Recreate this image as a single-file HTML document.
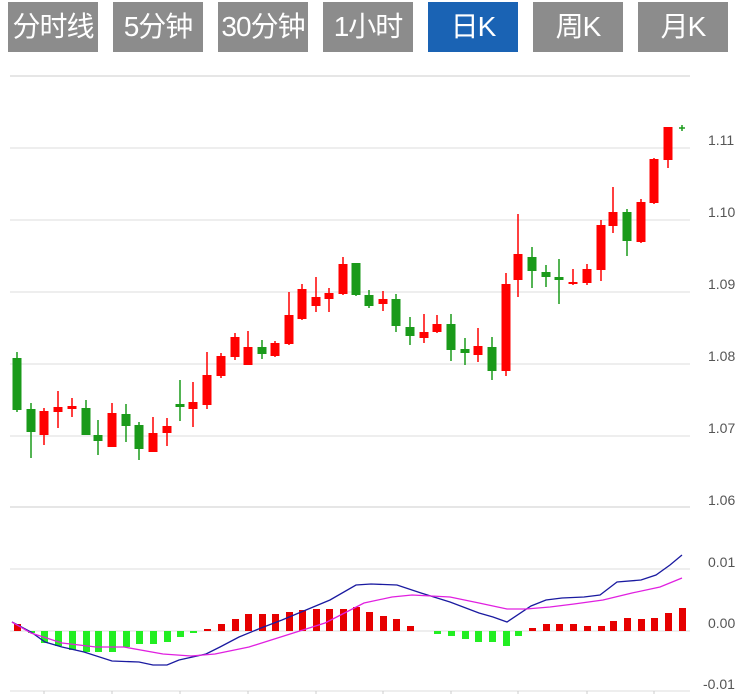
<!DOCTYPE html>
<html><head><meta charset="utf-8"><style>
body{margin:0;background:#fff;width:750px;height:694px;overflow:hidden;font-family:"Liberation Sans","Noto Sans CJK SC",sans-serif}
.t{position:absolute;top:2px;height:50px;width:90px;background:#8c8c8c;color:#fff;font-size:28px;line-height:50px;text-align:center;letter-spacing:-1px}
.a{background:#1a63b4}
svg{position:absolute;left:0;top:0}
</style></head><body>
<div class="t" style="left:8px">分时线</div>
<div class="t" style="left:113px">5分钟</div>
<div class="t" style="left:218px">30分钟</div>
<div class="t" style="left:323px">1小时</div>
<div class="t a" style="left:428px">日K</div>
<div class="t" style="left:533px">周K</div>
<div class="t" style="left:638px">月K</div>
<svg width="750" height="694" xmlns="http://www.w3.org/2000/svg">
<g stroke="#e6e6e6" stroke-width="2"><line x1="10" y1="76" x2="690" y2="76"/><line x1="10" y1="507" x2="690" y2="507"/></g>
<g stroke="#dcdcdc" stroke-width="1"><line x1="10" y1="148" x2="690" y2="148"/><line x1="10" y1="220" x2="690" y2="220"/><line x1="10" y1="292" x2="690" y2="292"/><line x1="10" y1="364" x2="690" y2="364"/><line x1="10" y1="436" x2="690" y2="436"/><line x1="10" y1="569" x2="690" y2="569"/><line x1="10" y1="631" x2="690" y2="631"/><line x1="10" y1="691" x2="690" y2="691"/></g>
<g stroke="#ccc"><line x1="44" y1="691" x2="44" y2="694"/><line x1="112" y1="691" x2="112" y2="694"/><line x1="180" y1="691" x2="180" y2="694"/><line x1="248" y1="691" x2="248" y2="694"/><line x1="316" y1="691" x2="316" y2="694"/><line x1="383" y1="691" x2="383" y2="694"/><line x1="451" y1="691" x2="451" y2="694"/><line x1="518" y1="691" x2="518" y2="694"/><line x1="587" y1="691" x2="587" y2="694"/><line x1="654" y1="691" x2="654" y2="694"/></g>
<g font-size="14" fill="#555" font-family="Liberation Sans, sans-serif">
<text x="708" y="145">1.11</text><text x="708" y="217">1.10</text><text x="708" y="289">1.09</text><text x="708" y="361">1.08</text><text x="708" y="433">1.07</text><text x="708" y="505">1.06</text>
<text x="708" y="567">0.01</text><text x="708" y="628">0.00</text><text x="703" y="689">-0.01</text></g>
<g id="c"></g>
<g stroke-width="1.5"></g>
</svg>
<svg width="750" height="694" xmlns="http://www.w3.org/2000/svg">
<g>
<!-- candles -->
<g stroke-width="1.5">
<line x1="17" y1="352" x2="17" y2="412" stroke="#1a9a1a"/><rect x="12.5" y="358" width="9" height="52" fill="#1a9a1a"/>
<line x1="31" y1="403" x2="31" y2="458" stroke="#1a9a1a"/><rect x="26.5" y="409" width="9" height="23" fill="#1a9a1a"/>
<line x1="44" y1="408" x2="44" y2="445" stroke="#f00"/><rect x="39.5" y="411" width="9" height="24" fill="#f00"/>
<line x1="58" y1="391" x2="58" y2="428" stroke="#f00"/><rect x="53.5" y="407" width="9" height="5" fill="#f00"/>
<line x1="72" y1="398" x2="72" y2="417" stroke="#f00"/><rect x="67.5" y="406" width="9" height="3" fill="#f00"/>
<line x1="86" y1="400" x2="86" y2="435" stroke="#1a9a1a"/><rect x="81.5" y="408" width="9" height="27" fill="#1a9a1a"/>
<line x1="98" y1="420" x2="98" y2="455" stroke="#1a9a1a"/><rect x="93.5" y="435" width="9" height="6" fill="#1a9a1a"/>
<line x1="112" y1="403" x2="112" y2="447" stroke="#f00"/><rect x="107.5" y="413" width="9" height="34" fill="#f00"/>
<line x1="126" y1="404" x2="126" y2="442" stroke="#1a9a1a"/><rect x="121.5" y="414" width="9" height="12" fill="#1a9a1a"/>
<line x1="139" y1="422" x2="139" y2="460" stroke="#1a9a1a"/><rect x="134.5" y="425" width="9" height="24" fill="#1a9a1a"/>
<line x1="153" y1="417" x2="153" y2="452" stroke="#f00"/><rect x="148.5" y="433" width="9" height="19" fill="#f00"/>
<line x1="167" y1="418" x2="167" y2="446" stroke="#f00"/><rect x="162.5" y="426" width="9" height="7" fill="#f00"/>
<line x1="180" y1="380" x2="180" y2="421" stroke="#1a9a1a"/><rect x="175.5" y="404" width="9" height="3" fill="#1a9a1a"/>
<line x1="193" y1="382" x2="193" y2="427" stroke="#f00"/><rect x="188.5" y="402" width="9" height="7" fill="#f00"/>
<line x1="207" y1="352" x2="207" y2="409" stroke="#f00"/><rect x="202.5" y="375" width="9" height="30" fill="#f00"/>
<line x1="221" y1="353" x2="221" y2="378" stroke="#f00"/><rect x="216.5" y="356" width="9" height="20" fill="#f00"/>
<line x1="235" y1="333" x2="235" y2="360" stroke="#f00"/><rect x="230.5" y="337" width="9" height="20" fill="#f00"/>
<line x1="248" y1="331" x2="248" y2="365" stroke="#f00"/><rect x="243.5" y="347" width="9" height="18" fill="#f00"/>
<line x1="262" y1="340" x2="262" y2="359" stroke="#1a9a1a"/><rect x="257.5" y="347" width="9" height="7" fill="#1a9a1a"/>
<line x1="275" y1="341" x2="275" y2="357" stroke="#f00"/><rect x="270.5" y="343" width="9" height="13" fill="#f00"/>
<line x1="289" y1="292" x2="289" y2="345" stroke="#f00"/><rect x="284.5" y="315" width="9" height="29" fill="#f00"/>
<line x1="302" y1="284" x2="302" y2="320" stroke="#f00"/><rect x="297.5" y="289" width="9" height="30" fill="#f00"/>
<line x1="316" y1="277" x2="316" y2="312" stroke="#f00"/><rect x="311.5" y="297" width="9" height="9" fill="#f00"/>
<line x1="329" y1="288" x2="329" y2="312" stroke="#f00"/><rect x="324.5" y="293" width="9" height="6" fill="#f00"/>
<line x1="343" y1="257" x2="343" y2="295" stroke="#f00"/><rect x="338.5" y="264" width="9" height="30" fill="#f00"/>
<line x1="356" y1="263" x2="356" y2="296" stroke="#1a9a1a"/><rect x="351.5" y="263" width="9" height="32" fill="#1a9a1a"/>
<line x1="369" y1="290" x2="369" y2="308" stroke="#1a9a1a"/><rect x="364.5" y="295" width="9" height="11" fill="#1a9a1a"/>
<line x1="383" y1="291" x2="383" y2="311" stroke="#f00"/><rect x="378.5" y="299" width="9" height="5" fill="#f00"/>
<line x1="396" y1="294" x2="396" y2="332" stroke="#1a9a1a"/><rect x="391.5" y="299" width="9" height="27" fill="#1a9a1a"/>
<line x1="410" y1="317" x2="410" y2="345" stroke="#1a9a1a"/><rect x="405.5" y="327" width="9" height="9" fill="#1a9a1a"/>
<line x1="424" y1="314" x2="424" y2="343" stroke="#f00"/><rect x="419.5" y="332" width="9" height="6" fill="#f00"/>
<line x1="437" y1="315" x2="437" y2="333" stroke="#f00"/><rect x="432.5" y="324" width="9" height="8" fill="#f00"/>
<line x1="451" y1="314" x2="451" y2="361" stroke="#1a9a1a"/><rect x="446.5" y="324" width="9" height="26" fill="#1a9a1a"/>
<line x1="465" y1="338" x2="465" y2="365" stroke="#1a9a1a"/><rect x="460.5" y="349" width="9" height="4" fill="#1a9a1a"/>
<line x1="478" y1="328" x2="478" y2="362" stroke="#f00"/><rect x="473.5" y="346" width="9" height="9" fill="#f00"/>
<line x1="492" y1="337" x2="492" y2="380" stroke="#1a9a1a"/><rect x="487.5" y="347" width="9" height="24" fill="#1a9a1a"/>
<line x1="506" y1="273" x2="506" y2="376" stroke="#f00"/><rect x="501.5" y="284" width="9" height="87" fill="#f00"/>
<line x1="518" y1="214" x2="518" y2="297" stroke="#f00"/><rect x="513.5" y="254" width="9" height="26" fill="#f00"/>
<line x1="532" y1="247" x2="532" y2="288" stroke="#1a9a1a"/><rect x="527.5" y="257" width="9" height="14" fill="#1a9a1a"/>
<line x1="546" y1="265" x2="546" y2="287" stroke="#1a9a1a"/><rect x="541.5" y="272" width="9" height="5" fill="#1a9a1a"/>
<line x1="559" y1="259" x2="559" y2="304" stroke="#1a9a1a"/><rect x="554.5" y="277" width="9" height="3" fill="#1a9a1a"/>
<line x1="573" y1="269" x2="573" y2="285" stroke="#f00"/><rect x="568.5" y="282" width="9" height="2" fill="#f00"/>
<line x1="587" y1="264" x2="587" y2="285" stroke="#f00"/><rect x="582.5" y="269" width="9" height="14" fill="#f00"/>
<line x1="601" y1="220" x2="601" y2="281" stroke="#f00"/><rect x="596.5" y="225" width="9" height="45" fill="#f00"/>
<line x1="613" y1="187" x2="613" y2="233" stroke="#f00"/><rect x="608.5" y="212" width="9" height="14" fill="#f00"/>
<line x1="627" y1="209" x2="627" y2="256" stroke="#1a9a1a"/><rect x="622.5" y="212" width="9" height="29" fill="#1a9a1a"/>
<line x1="641" y1="199" x2="641" y2="243" stroke="#f00"/><rect x="636.5" y="202" width="9" height="40" fill="#f00"/>
<line x1="654" y1="158" x2="654" y2="204" stroke="#f00"/><rect x="649.5" y="159" width="9" height="44" fill="#f00"/>
<line x1="668" y1="127" x2="668" y2="168" stroke="#f00"/><rect x="663.5" y="127" width="9" height="33" fill="#f00"/>
<line x1="682" y1="125" x2="682" y2="131" stroke="#1a9a1a"/><line x1="679" y1="128" x2="685" y2="128" stroke="#1a9a1a"/>
</g>
<!-- macd bars -->
<g fill="#e60000">
<rect x="14" y="624" width="7" height="7"/>
<rect x="204" y="629" width="7" height="2"/><rect x="218" y="624" width="7" height="7"/><rect x="232" y="619" width="7" height="12"/><rect x="245" y="614" width="7" height="17"/><rect x="259" y="614" width="7" height="17"/><rect x="272" y="614" width="7" height="17"/><rect x="286" y="612" width="7" height="19"/><rect x="299" y="610" width="7" height="21"/><rect x="313" y="609" width="7" height="22"/><rect x="326" y="609" width="7" height="22"/><rect x="340" y="609" width="7" height="22"/><rect x="353" y="607" width="7" height="24"/><rect x="366" y="612" width="7" height="19"/><rect x="380" y="616" width="7" height="15"/><rect x="393" y="619" width="7" height="12"/><rect x="407" y="626" width="7" height="5"/>
<rect x="529" y="628" width="7" height="3"/><rect x="543" y="624" width="7" height="7"/><rect x="556" y="624" width="7" height="7"/><rect x="570" y="624" width="7" height="7"/><rect x="584" y="626" width="7" height="5"/><rect x="598" y="626" width="7" height="5"/><rect x="610" y="621" width="7" height="10"/><rect x="624" y="618" width="7" height="13"/><rect x="638" y="619" width="7" height="12"/><rect x="651" y="618" width="7" height="13"/><rect x="665" y="613" width="7" height="18"/><rect x="679" y="608" width="7" height="23"/>
</g>
<g fill="#22ee22">
<rect x="28" y="631" width="7" height="2"/><rect x="41" y="631" width="7" height="12"/><rect x="55" y="631" width="7" height="15"/><rect x="69" y="631" width="7" height="19"/><rect x="83" y="631" width="7" height="21"/><rect x="95" y="631" width="7" height="21"/><rect x="109" y="631" width="7" height="21"/><rect x="123" y="631" width="7" height="16"/><rect x="136" y="631" width="7" height="13"/><rect x="150" y="631" width="7" height="13"/><rect x="164" y="631" width="7" height="11"/><rect x="177" y="631" width="7" height="6"/><rect x="190" y="631" width="7" height="2"/>
<rect x="434" y="631" width="7" height="3"/><rect x="448" y="631" width="7" height="5"/><rect x="462" y="631" width="7" height="8"/><rect x="475" y="631" width="7" height="11"/><rect x="489" y="631" width="7" height="11"/><rect x="503" y="631" width="7" height="15"/><rect x="515" y="631" width="7" height="5"/>
</g>
<polyline fill="none" stroke="#1a1aa0" stroke-width="1.3" points="12,622 31,632 45,642 62,647 84,652 112,661 139,662 153,665 167,665 179,660 206,654 220,647 239,637 261,628 282,620 306,610 330,600 356,585 371,584 397,585 421,593 450,602 479,613 493,617 507,622 531,606 546,600 562,598 584,597 600,595 617,582 641,580 656,575 670,565 682,555"/>
<polyline fill="none" stroke="#e020e0" stroke-width="1.3" points="12,622 31,633 62,643 96,647 124,647 163,654 191,656 215,654 249,647 287,635 325,623 364,603 392,597 412,595 450,597 479,603 507,609 526,609 550,607 574,604 603,600 632,593 660,587 682,578"/>
</g>
</svg>
</body></html>
